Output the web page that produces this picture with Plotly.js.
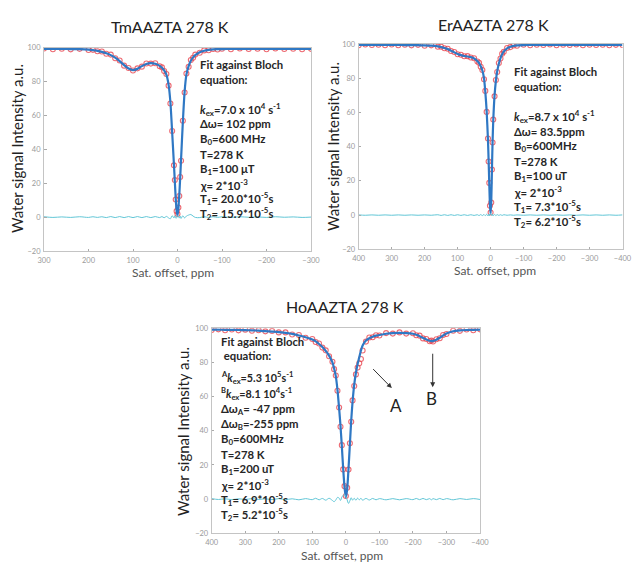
<!DOCTYPE html>
<html><head><meta charset="utf-8">
<script src="https://cdn.plot.ly/plotly-3.0.1.min.js"></script>
<style>html,body{margin:0;padding:0;background:#fff}#chart{width:632px;height:565px}</style>
</head><body><div id="chart"></div>
<script>
// ---------- TmAAZTA ----------
const tmX = [300,280,260,240,220,200,190,180,170,160,150,140,130,120,110,100,90,80,70,60,50,40,35,30,25,20,16,12,8,6,4,2,0,-2,-4,-6,-8,-12,-16,-20,-25,-30,-35,-40,-50,-60,-70,-80,-90,-100,-120,-140,-160,-180,-200,-220,-240,-260,-280,-300];
const tmFit = [99.2,99.2,99.2,99.1,99.0,98.7,98.4,98.0,97.4,96.6,95.5,94.0,92.0,89.6,87.6,86.7,87.4,89.0,90.3,90.8,90.4,89.2,88.0,86.5,84.0,78.0,68.0,50.0,31.0,21.0,11.0,4.0,1.0,5.0,13.0,23.0,34.0,56.0,74.0,84.0,89.0,92.2,94.2,95.5,97.2,98.1,98.6,98.9,99.0,99.1,99.2,99.2,99.2,99.2,99.2,99.2,99.2,99.2,99.2,99.2];
const tmData = [99.4,99.0,99.3,98.9,99.2,98.5,98.6,97.8,97.6,96.3,95.8,93.7,92.3,89.3,87.9,86.4,87.7,88.7,90.6,90.5,90.7,88.9,88.3,86.1,84.4,77.5,67.0,50.8,30.5,21.8,10.4,3.5,1.8,5.6,12.4,23.6,33.2,56.8,73.5,84.6,88.6,92.6,93.9,95.8,96.9,98.3,98.4,99.1,98.8,99.3,99.0,99.4,99.1,99.3,99.0,99.4,99.1,99.3,99.0,99.2];
const tmRes = [0.2,-0.2,0.1,-0.2,0.2,-0.2,0.2,-0.2,0.2,-0.3,0.3,-0.3,0.3,-0.3,0.3,-0.3,0.3,-0.3,0.3,-0.3,0.3,-0.3,0.3,-0.4,0.4,-0.5,-1.0,0.8,-0.5,0.8,-0.6,-0.5,0.8,0.6,-0.6,0.6,-0.8,0.8,-0.5,0.6,1.2,1.5,0.6,-0.2,-0.3,0.2,-0.2,0.2,-0.2,0.2,-0.2,0.2,-0.1,0.1,-0.2,0.2,-0.1,0.1,-0.2,0.0];
const tmTicksX = [300,200,100,0,-100,-200,-300];

// ---------- ErAAZTA ----------
const erX = [400,380,360,340,320,300,280,260,240,220,200,180,160,150,140,130,120,110,100,90,80,70,60,50,40,35,30,25,20,16,12,8,6,4,2,0,-2,-4,-6,-8,-12,-16,-20,-25,-30,-35,-40,-50,-60,-70,-80,-100,-120,-140,-160,-180,-200,-220,-240,-260,-280,-300,-320,-340,-360,-380,-400];
const erFit = [99.5,99.5,99.5,99.5,99.5,99.5,99.5,99.4,99.4,99.3,99.2,99.0,98.6,98.2,97.7,97.0,96.1,95.1,94.2,93.5,93.0,92.7,92.3,91.5,90.0,88.8,87.0,84.5,80.0,72.0,61.0,44.0,32.0,18.0,6.0,0.8,8.0,26.0,43.0,55.0,70.0,78.5,84.0,88.5,91.8,94.0,95.6,97.5,98.4,98.9,99.2,99.4,99.5,99.5,99.5,99.5,99.5,99.5,99.5,99.5,99.5,99.5,99.5,99.5,99.5,99.5,99.5];
const erData = [99.3,99.7,99.4,99.6,99.3,99.7,99.3,99.6,99.2,99.5,99.0,99.2,98.4,98.4,97.5,97.2,95.9,95.3,94.0,93.7,92.8,92.9,92.1,91.7,89.8,89.0,86.7,84.8,79.4,72.6,60.3,44.8,31.3,18.8,5.4,1.5,7.3,26.6,42.4,55.8,69.4,79.0,83.6,88.9,91.5,94.3,95.4,97.7,98.2,99.1,99.0,99.6,99.3,99.6,99.4,99.7,99.3,99.6,99.4,99.7,99.3,99.6,99.4,99.6,99.3,99.5,99.4];
const erRes = [0.1,-0.1,0.1,-0.1,0.1,-0.1,0.1,-0.1,0.1,-0.1,0.1,-0.1,0.2,-0.2,0.2,-0.2,0.2,-0.2,0.2,-0.2,0.2,-0.2,0.2,-0.2,0.2,-0.3,0.3,-0.3,0.4,-0.4,0.5,-0.5,0.6,-0.5,0.7,0.8,0.6,-0.4,0.5,-0.4,0.4,-0.3,0.3,-0.2,0.2,-0.2,0.2,-0.1,0.1,-0.1,0.1,-0.1,0.1,-0.1,0.1,-0.1,0.1,-0.1,0.1,-0.1,0.1,-0.1,0.1,-0.1,0.1,-0.1,0.1];

// ---------- HoAAZTA ----------
const hoX = [400,380,360,340,320,300,280,260,240,220,200,180,160,140,120,100,90,80,70,60,50,40,35,30,25,20,16,12,8,4,0,-4,-8,-12,-16,-20,-25,-30,-35,-40,-45,-50,-60,-70,-80,-90,-100,-120,-140,-160,-180,-200,-210,-220,-230,-240,-250,-255,-260,-270,-280,-290,-300,-320,-340,-360,-380,-400];
const hoFit = [99.2,99.2,99.1,99.1,99.0,98.9,98.8,98.6,98.4,98.1,97.8,97.3,96.7,95.8,94.8,93.4,92.3,90.8,89.0,86.8,84.0,80.0,76.5,72.0,64.0,53.0,43.0,31.0,18.0,7.0,1.0,6.0,18.0,32.0,46.0,57.0,67.0,74.0,79.0,83.0,87.0,90.0,92.8,94.2,95.1,95.7,96.1,96.8,97.2,97.3,97.2,96.8,96.2,95.4,94.4,93.4,92.7,92.5,92.6,93.3,94.5,95.8,97.0,98.3,98.8,99.0,99.1,99.2];
const hoData = [99.0,99.4,98.9,99.3,98.8,99.2,98.6,98.9,98.2,98.4,97.6,97.6,96.4,96.1,94.5,93.7,92.0,91.1,88.7,87.1,83.6,80.4,76.1,72.4,63.4,53.6,42.4,31.6,17.4,7.6,1.8,6.6,17.3,32.7,45.3,57.8,66.2,73.0,77.0,79.5,82.0,87.0,92.2,94.6,94.8,95.9,95.8,97.2,96.9,97.6,96.9,97.1,95.9,95.7,94.1,93.7,92.4,92.8,92.3,93.6,94.2,96.1,96.7,98.6,98.5,99.3,98.9,99.4];
const hoRes = [0.3,-0.2,0.2,-0.3,0.2,-0.2,0.3,-0.2,0.2,-0.3,0.3,-0.3,0.2,-0.4,0.3,-0.3,0.5,-0.4,0.4,-0.6,0.5,-0.8,-1.5,-0.5,1.0,0.6,-0.8,1.2,2.2,2.8,1.5,-0.5,-2.5,-1.0,0.8,-0.6,0.5,-0.7,0.6,-0.4,0.5,-0.6,0.4,-0.5,0.4,-0.4,0.3,-0.4,0.3,-0.4,0.3,-0.3,0.4,-0.3,0.4,-0.3,0.3,-0.4,0.3,-0.3,0.4,-0.3,0.3,-0.4,0.3,-0.2,0.3,-0.2];
const wideTicksX = [400,300,200,100,0,-100,-200,-300,-400];
const ticksY = [100,80,60,40,20,0,-20];

// ---------- text ----------
const titles = ["TmAAZTA 278 K","ErAAZTA 278 K","HoAAZTA 278 K"];
const yTitle = "Water signal Intensity a.u.";
const xTitle = "Sat. offset, ppm";
const tmLines = ["Fit against Bloch","equation:","","<i>k</i><sub>ex</sub>=7.0 x 10<sup>4</sup> s<sup>-1</sup>","\u0394\u03c9= 102 ppm","B<sub>0</sub>=600 MHz","T=278 K","B<sub>1</sub>=100 \u03bcT","\u03c7= 2*10<sup>-3</sup>","T<sub>1</sub>= 20.0*10<sup>-5</sup>s","T<sub>2</sub>= 15.9*10<sup>-5</sup>s"];
const erLines = ["Fit against Bloch","equation:","","<i>k</i><sub>ex</sub>=8.7 x 10<sup>4</sup> s<sup>-1</sup>","\u0394\u03c9= 83.5ppm","B<sub>0</sub>=600MHz","T=278 K","B<sub>1</sub>=100 uT","\u03c7= 2*10<sup>-3</sup>","T<sub>1</sub>= 7.3*10<sup>-5</sup>s","T<sub>2</sub>= 6.2*10<sup>-5</sup>s"];
const hoLines = ["Fit against Bloch"," equation:","<sup>A</sup><i>k</i><sub>ex</sub>=5.3 10<sup>5</sup>s<sup>-1</sup>","<sup>B</sup><i>k</i><sub>ex</sub>=8.1 10<sup>4</sup>s<sup>-1</sup>","\u0394\u03c9<sub>A</sub>= -47 ppm","\u0394\u03c9<sub>B</sub>=-255 ppm","B<sub>0</sub>=600MHz","T=278 K","B<sub>1</sub>=200 uT","\u03c7= 2*10<sup>-3</sup>","T<sub>1</sub>= 6.9*10<sup>-5</sup>s","T<sub>2</sub>= 5.2*10<sup>-5</sup>s"];

const W = 632, H = 565;
const px = v => v / W, py = v => 1 - v / H;
const RED = 'rgba(232,70,80,0.8)', BLUE = '#2f78c4', CYAN = '#62c6d6';

function series(x, d, f, r, xa, ya) {
  return [
    {x: x, y: d, xaxis: xa, yaxis: ya, type: 'scatter', mode: 'markers',
     marker: {symbol: 'circle-open', size: 5, color: RED, line: {width: 1.1, color: RED}}, hoverinfo: 'skip'},
    {x: x, y: f, xaxis: xa, yaxis: ya, type: 'scatter', mode: 'lines',
     line: {color: BLUE, width: 2.2, shape: 'spline', smoothing: 0.6}, hoverinfo: 'skip'},
    {x: x, y: r, xaxis: xa, yaxis: ya, type: 'scatter', mode: 'lines',
     line: {color: CYAN, width: 1, shape: 'spline'}, hoverinfo: 'skip'}
  ];
}
const traces = [].concat(
  series(tmX, tmData, tmFit, tmRes, 'x', 'y'),
  series(erX, erData, erFit, erRes, 'x2', 'y2'),
  series(hoX, hoData, hoFit, hoRes, 'x3', 'y3')
);

const tickFont = {family: 'Lato, sans-serif', size: 7.5, color: '#9a9a9a'};
function xax(dom, rng, tv, anchor) {
  return {domain: dom, range: rng, anchor: anchor, tickmode: 'array', tickvals: tv,
    ticks: 'inside', ticklen: 2.5, tickcolor: '#aaa', showgrid: false, zeroline: false,
    showline: true, mirror: true, linecolor: '#c4c4c4', linewidth: 1, tickfont: tickFont,
    ticklabelstandoff: 2, ticklabeloverflow: 'allow'};
}
function yax(dom, anchor) {
  return {domain: dom, range: [-20, 100], anchor: anchor, tickmode: 'array', tickvals: ticksY,
    ticks: 'inside', ticklen: 2.5, tickcolor: '#aaa', showgrid: false, zeroline: false,
    showline: true, mirror: true, linecolor: '#c4c4c4', linewidth: 1, tickfont: tickFont,
    ticklabelstandoff: 1, ticklabeloverflow: 'allow'};
}

const ann = [];
function addText(text, x, y, size, opts) {
  ann.push(Object.assign({text: text, xref: 'paper', yref: 'paper', x: px(x), y: py(y),
    showarrow: false, xanchor: 'center', yanchor: 'middle',
    font: {family: 'Lato, sans-serif', size: size, color: '#222'}}, opts || {}));
}
// titles
addText(titles[0], 170, 27, 16);
addText(titles[1], 494, 24, 16);
addText(titles[2], 345, 306, 16);
// y titles
addText(yTitle, 17, 149, 15, {textangle: -90});
addText(yTitle, 333, 147, 15, {textangle: -90});
addText(yTitle, 183, 432, 15, {textangle: -90});
// x titles
const xtFont = {family: 'Lato, sans-serif', size: 12, color: '#555'};
addText(xTitle, 173, 272, 12, {font: xtFont});
addText(xTitle, 495, 270, 12, {font: xtFont});
addText(xTitle, 342, 555, 12, {font: xtFont});

function block(lines, x0, y0, step, size) {
  let y = y0;
  lines.forEach(function (t) {
    if (t !== '') {
      ann.push({text: '<b>' + t + '</b>', xref: 'paper', yref: 'paper', x: px(x0), y: py(y),
        showarrow: false, xanchor: 'left', yanchor: 'middle',
        font: {family: 'Lato, sans-serif', size: size, color: '#262626'}});
    }
    y += step;
  });
}
block(tmLines, 198, 64, 15.0, 11.3);
block(erLines, 512, 71.5, 15.0, 11.3);
// Ho block: gap after "equation:" is ~1.6 lines
block(hoLines.slice(0, 2), 219, 341, 14.5, 11.3);
block(hoLines.slice(2, 4), 219, 378, 16.0, 10.8);
block(hoLines.slice(4), 219, 409.5, 15.0, 11.3);

// arrows A and B (data coords of bottom panel)
ann.push({xref: 'x3', yref: 'y3', axref: 'x3', ayref: 'y3', x: -137, y: 65, ax: -77, ay: 77,
  text: '', showarrow: true, arrowhead: 2, arrowsize: 1, arrowwidth: 1, arrowcolor: '#333'});
ann.push({xref: 'x3', yref: 'y3', axref: 'x3', ayref: 'y3', x: -259, y: 65.5, ax: -259, ay: 86,
  text: '', showarrow: true, arrowhead: 2, arrowsize: 1, arrowwidth: 1, arrowcolor: '#333'});
ann.push({xref: 'x3', yref: 'y3', x: -149, y: 55, text: 'A', showarrow: false,
  font: {family: 'Lato, sans-serif', size: 17, color: '#222'}});
ann.push({xref: 'x3', yref: 'y3', x: -256, y: 59, text: 'B', showarrow: false,
  font: {family: 'Lato, sans-serif', size: 17, color: '#222'}});

const layout = {
  width: W, height: H, autosize: false, showlegend: false,
  margin: {l: 0, r: 0, t: 0, b: 0}, paper_bgcolor: '#fff', plot_bgcolor: '#fff',
  xaxis: xax([px(44), px(311)], [300, -300], tmTicksX, 'y'),
  yaxis: yax([py(251), py(47.5)], 'x'),
  xaxis2: xax([px(358.7), px(622.5)], [400, -400], wideTicksX, 'y2'),
  yaxis2: yax([py(249.3), py(44)], 'x2'),
  xaxis3: xax([px(211.7), px(480)], [400, -400], wideTicksX, 'y3'),
  yaxis3: yax([py(533.3), py(328.3)], 'x3'),
  annotations: ann
};
Plotly.newPlot('chart', traces, layout, {staticPlot: true, displayModeBar: false});
</script></body></html>
